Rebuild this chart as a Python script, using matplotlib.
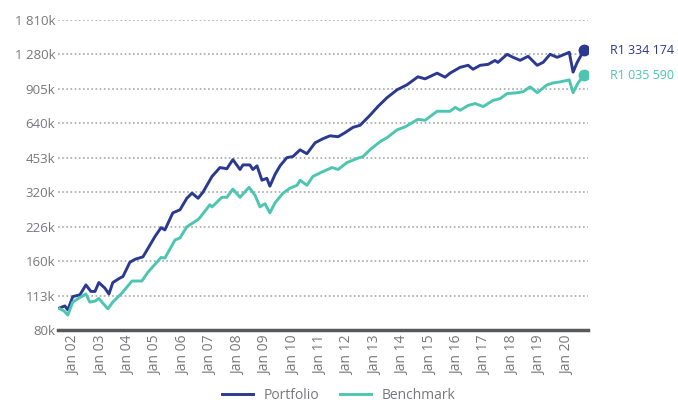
import numpy as np
import matplotlib
matplotlib.use('Agg')
from matplotlib import pyplot as plt

plt.rcParams['font.family'] = ['Open Sans', 'DejaVu Sans']

navy = '#2b3990'
teal = '#4cc6b1'
grey = '#77787b'

# Portfolio value (R thousand), time in decimal years
port_t = [2001.49, 2001.67, 2001.78, 2001.96, 2002.22, 2002.44, 2002.62, 2002.77, 2002.91,
          2003.13, 2003.28, 2003.42, 2003.68, 2003.79, 2004.04, 2004.23, 2004.52, 2004.96,
          2005.18, 2005.32, 2005.61, 2005.87, 2006.12, 2006.31, 2006.53, 2006.71, 2006.96,
          2007.04, 2007.33, 2007.58, 2007.80, 2008.06, 2008.17, 2008.42, 2008.53, 2008.68,
          2008.86, 2009.04, 2009.15, 2009.34, 2009.52, 2009.77, 2009.99, 2010.25, 2010.50,
          2010.80, 2011.09, 2011.34, 2011.64, 2011.89, 2012.18, 2012.44, 2012.80, 2013.09,
          2013.42, 2013.79, 2014.15, 2014.55, 2014.81, 2015.25, 2015.54, 2015.72, 2016.09,
          2016.38, 2016.56, 2016.82, 2017.11, 2017.36, 2017.47, 2017.80, 2018.02, 2018.28,
          2018.57, 2018.90, 2019.12, 2019.37, 2019.63, 2019.81, 2020.07, 2020.21, 2020.36,
          2020.61]
port_v = [100, 102, 98, 112, 114, 126, 118, 118, 129,
          122, 115, 129, 135, 137, 158, 163, 167, 205,
          224, 219, 260, 268, 301, 317, 301, 320, 361,
          375, 410, 405, 444, 402, 421, 421, 402, 417,
          361, 368, 340, 383, 417, 453, 458, 490, 471,
          526, 548, 564, 559, 582, 614, 627, 693, 757,
          827, 896, 942, 1021, 1000, 1059, 1017, 1059, 1123,
          1146, 1101, 1146, 1157, 1203, 1180, 1280, 1242, 1205,
          1255, 1146, 1181, 1280, 1242, 1267, 1306, 1070, 1181,
          1334.174]

bench_t = [2001.49, 2001.64, 2001.78, 2001.96, 2002.22, 2002.44, 2002.58, 2002.77, 2002.91,
           2003.24, 2003.42, 2003.75, 2004.12, 2004.48, 2004.70, 2005.18, 2005.32, 2005.69,
           2005.87, 2006.12, 2006.53, 2006.60, 2006.96, 2007.04, 2007.40, 2007.58, 2007.80,
           2008.06, 2008.39, 2008.61, 2008.79, 2008.97, 2009.15, 2009.34, 2009.63, 2009.88,
           2010.14, 2010.25, 2010.50, 2010.72, 2011.09, 2011.42, 2011.64, 2011.96, 2012.33,
           2012.55, 2012.80, 2013.17, 2013.42, 2013.79, 2014.08, 2014.55, 2014.81, 2015.25,
           2015.72, 2015.91, 2016.09, 2016.38, 2016.64, 2016.93, 2017.29, 2017.55, 2017.80,
           2018.17, 2018.39, 2018.64, 2018.90, 2019.26, 2019.48, 2019.74, 2020.07, 2020.21,
           2020.39, 2020.61]
bench_v = [99, 97, 93, 106, 111, 115, 106, 107, 110,
           99, 106, 116, 131, 131, 143, 166, 165, 198,
           202, 226, 243, 248, 282, 276, 304, 304, 330,
           304, 336, 310, 276, 285, 260, 288, 317, 333,
           343, 361, 343, 375, 394, 410, 402, 431, 449,
           458, 490, 532, 553, 599, 617, 666, 659, 722,
           722, 751, 729, 765, 780, 757, 805, 820, 862,
           870, 879, 923, 870, 941, 960, 970, 990, 870,
           960, 1035.590]

yticks = [80, 113, 160, 226, 320, 453, 640, 905, 1280, 1810]
ylabels = ['80k', '113k', '160k', '226k', '320k', '453k', '640k', '905k', '1 280k', '1 810k']
xyears = list(range(2002, 2021))
xlabels = ['Jan %02d' % (y % 100) for y in xyears]

fig = plt.figure(figsize=(6.78, 4.05), dpi=100)
ax = fig.add_axes([0.0855, 0.185, 0.782, 0.766])

ax.plot(port_t, port_v, color=navy, lw=2.1, label='Portfolio', solid_joinstyle='round')
ax.plot(bench_t, bench_v, color=teal, lw=2.1, label='Benchmark', solid_joinstyle='round')
ax.plot(port_t[-1], port_v[-1], 'o', color=navy, ms=7.5)
ax.plot(bench_t[-1], bench_v[-1], 'o', color=teal, ms=7.5)

ax.annotate('R1 334 174', (port_t[-1], port_v[-1]), xytext=(19, 0), textcoords='offset points',
            color=navy, fontsize=9, va='center', annotation_clip=False)
ax.annotate('R1 035 590', (bench_t[-1], bench_v[-1]), xytext=(19, 0), textcoords='offset points',
            color=teal, fontsize=9, va='center', annotation_clip=False)

ax.set_yscale('log')
ax.set_ylim(80, 1810)
ax.set_xlim(2001.42, 2020.76)
ax.set_yticks(yticks)
ax.set_yticklabels(ylabels)
ax.minorticks_off()
ax.set_xticks(xyears)
ax.set_xticklabels(xlabels, rotation=90)
ax.tick_params(axis='both', length=0, colors=grey, labelsize=9.5)
ax.tick_params(axis='x', labelsize=10, pad=4)
ax.tick_params(axis='y', pad=2)

for y in yticks[1:]:
    ax.axhline(y, color='#a7a9ac', lw=1.2, ls=(0, (1, 1.5)), zorder=0)

for s in ['top', 'right', 'left']:
    ax.spines[s].set_visible(False)
ax.spines['bottom'].set_color('#58595b')
ax.spines['bottom'].set_linewidth(2.5)

fig.legend(loc='lower center', bbox_to_anchor=(0.5, -0.025), ncol=2, frameon=False,
           fontsize=10, handlelength=2.2, columnspacing=1.5, labelcolor=grey)

fig.savefig('out.png', dpi=100)
